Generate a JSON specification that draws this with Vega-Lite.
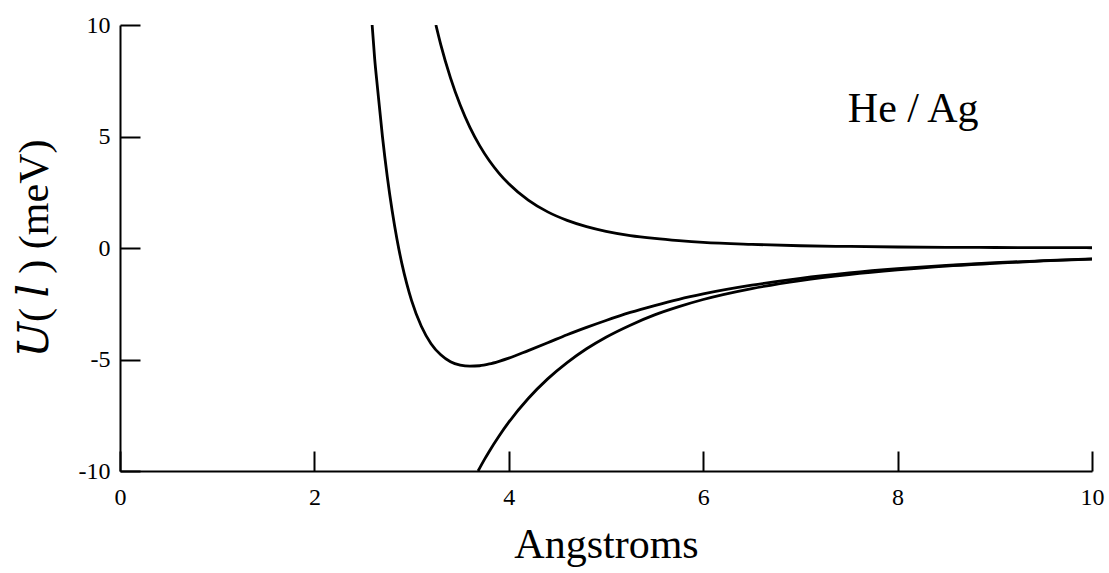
{
  "$schema": "https://vega.github.io/schema/vega-lite/v6.json",
  "width": 972,
  "height": 446,
  "autosize": "none",
  "padding": {"left": 120, "top": 25, "right": 17, "bottom": 102},
  "background": "white",
  "config": {
    "view": {"stroke": null},
    "font": "Liberation Serif",
    "axis": {
      "grid": false,
      "domainColor": "black",
      "domainWidth": 2,
      "tickColor": "black",
      "tickWidth": 2,
      "tickSize": -20,
      "labelColor": "black",
      "labelFont": "Liberation Serif",
      "labelFontSize": 24,
      "labelFlush": false,
      "titleColor": "black",
      "titleFont": "Liberation Serif, DejaVu Serif",
      "titleFontSize": 42,
      "titleFontWeight": "normal"
    }
  },
  "layer": [
    {
      "data": {
        "values": [
          {"curve": "full", "r": 2.594, "U": 10.0},
          {"curve": "full", "r": 2.62, "U": 8.49},
          {"curve": "full", "r": 2.65, "U": 7.15},
          {"curve": "full", "r": 2.7, "U": 5.0},
          {"curve": "full", "r": 2.75, "U": 3.19},
          {"curve": "full", "r": 2.8, "U": 1.67},
          {"curve": "full", "r": 2.85, "U": 0.38},
          {"curve": "full", "r": 2.9, "U": -0.7},
          {"curve": "full", "r": 2.95, "U": -1.6},
          {"curve": "full", "r": 3.0, "U": -2.36},
          {"curve": "full", "r": 3.1, "U": -3.51},
          {"curve": "full", "r": 3.2, "U": -4.29},
          {"curve": "full", "r": 3.3, "U": -4.79},
          {"curve": "full", "r": 3.4, "U": -5.1},
          {"curve": "full", "r": 3.5, "U": -5.25},
          {"curve": "full", "r": 3.6, "U": -5.3},
          {"curve": "full", "r": 3.7, "U": -5.28},
          {"curve": "full", "r": 3.8, "U": -5.2},
          {"curve": "full", "r": 3.9, "U": -5.08},
          {"curve": "full", "r": 4.0, "U": -4.94},
          {"curve": "full", "r": 4.2, "U": -4.6},
          {"curve": "full", "r": 4.4, "U": -4.25},
          {"curve": "full", "r": 4.6, "U": -3.89},
          {"curve": "full", "r": 4.8, "U": -3.56},
          {"curve": "full", "r": 5.0, "U": -3.25},
          {"curve": "full", "r": 5.25, "U": -2.89},
          {"curve": "full", "r": 5.5, "U": -2.58},
          {"curve": "full", "r": 5.75, "U": -2.3},
          {"curve": "full", "r": 6.0, "U": -2.06},
          {"curve": "full", "r": 6.5, "U": -1.67},
          {"curve": "full", "r": 7.0, "U": -1.36},
          {"curve": "full", "r": 7.5, "U": -1.12},
          {"curve": "full", "r": 8.0, "U": -0.93},
          {"curve": "full", "r": 8.5, "U": -0.78},
          {"curve": "full", "r": 9.0, "U": -0.66},
          {"curve": "full", "r": 9.5, "U": -0.57},
          {"curve": "full", "r": 10.0, "U": -0.49},

          {"curve": "repulsive", "r": 3.25, "U": 10.0},
          {"curve": "repulsive", "r": 3.3, "U": 9.12},
          {"curve": "repulsive", "r": 3.4, "U": 7.63},
          {"curve": "repulsive", "r": 3.5, "U": 6.41},
          {"curve": "repulsive", "r": 3.6, "U": 5.41},
          {"curve": "repulsive", "r": 3.7, "U": 4.59},
          {"curve": "repulsive", "r": 3.8, "U": 3.91},
          {"curve": "repulsive", "r": 3.9, "U": 3.35},
          {"curve": "repulsive", "r": 4.0, "U": 2.88},
          {"curve": "repulsive", "r": 4.2, "U": 2.15},
          {"curve": "repulsive", "r": 4.4, "U": 1.62},
          {"curve": "repulsive", "r": 4.6, "U": 1.24},
          {"curve": "repulsive", "r": 4.8, "U": 0.96},
          {"curve": "repulsive", "r": 5.0, "U": 0.75},
          {"curve": "repulsive", "r": 5.25, "U": 0.56},
          {"curve": "repulsive", "r": 5.5, "U": 0.43},
          {"curve": "repulsive", "r": 5.75, "U": 0.33},
          {"curve": "repulsive", "r": 6.0, "U": 0.25},
          {"curve": "repulsive", "r": 6.5, "U": 0.16},
          {"curve": "repulsive", "r": 7.0, "U": 0.1},
          {"curve": "repulsive", "r": 7.5, "U": 0.07},
          {"curve": "repulsive", "r": 8.0, "U": 0.045},
          {"curve": "repulsive", "r": 8.5, "U": 0.03},
          {"curve": "repulsive", "r": 9.0, "U": 0.022},
          {"curve": "repulsive", "r": 9.5, "U": 0.016},
          {"curve": "repulsive", "r": 10.0, "U": 0.012},

          {"curve": "attractive", "r": 3.684, "U": -10.0},
          {"curve": "attractive", "r": 3.75, "U": -9.48},
          {"curve": "attractive", "r": 3.8, "U": -9.11},
          {"curve": "attractive", "r": 3.9, "U": -8.43},
          {"curve": "attractive", "r": 4.0, "U": -7.81},
          {"curve": "attractive", "r": 4.2, "U": -6.75},
          {"curve": "attractive", "r": 4.4, "U": -5.87},
          {"curve": "attractive", "r": 4.6, "U": -5.14},
          {"curve": "attractive", "r": 4.8, "U": -4.52},
          {"curve": "attractive", "r": 5.0, "U": -4.0},
          {"curve": "attractive", "r": 5.25, "U": -3.46},
          {"curve": "attractive", "r": 5.5, "U": -3.0},
          {"curve": "attractive", "r": 5.75, "U": -2.63},
          {"curve": "attractive", "r": 6.0, "U": -2.31},
          {"curve": "attractive", "r": 6.5, "U": -1.82},
          {"curve": "attractive", "r": 7.0, "U": -1.46},
          {"curve": "attractive", "r": 7.5, "U": -1.19},
          {"curve": "attractive", "r": 8.0, "U": -0.98},
          {"curve": "attractive", "r": 8.5, "U": -0.81},
          {"curve": "attractive", "r": 9.0, "U": -0.69},
          {"curve": "attractive", "r": 9.5, "U": -0.58},
          {"curve": "attractive", "r": 10.0, "U": -0.5}
        ]
      },
      "mark": {"type": "line", "color": "black", "strokeWidth": 2.8, "interpolate": "monotone", "clip": true},
      "encoding": {
        "x": {
          "field": "r",
          "type": "quantitative",
          "scale": {"domain": [0, 10], "nice": false, "zero": false},
          "axis": {
            "title": "Angstroms",
            "values": [0, 2, 4, 6, 8, 10],
            "labelExpr": "'' + datum.value",
            "labelPadding": 34,
            "titlePadding": 15
          }
        },
        "y": {
          "field": "U",
          "type": "quantitative",
          "scale": {"domain": [-10, 10], "nice": false, "zero": false},
          "axis": {
            "title": "𝑈( 𝑙 ) (meV)",
            "values": [-10, -5, 0, 5, 10],
            "labelExpr": "'' + datum.value",
            "labelPadding": 30,
            "titlePadding": 22
          }
        },
        "detail": {"field": "curve", "type": "nominal"}
      }
    },
    {
      "data": {"values": [{"label": "He / Ag", "r": 8.16, "U": 5.66}]},
      "mark": {"type": "text", "font": "Liberation Serif", "fontSize": 42, "color": "black", "align": "center", "baseline": "alphabetic"},
      "encoding": {
        "x": {"field": "r", "type": "quantitative"},
        "y": {"field": "U", "type": "quantitative"},
        "text": {"field": "label"}
      }
    }
  ]
}
